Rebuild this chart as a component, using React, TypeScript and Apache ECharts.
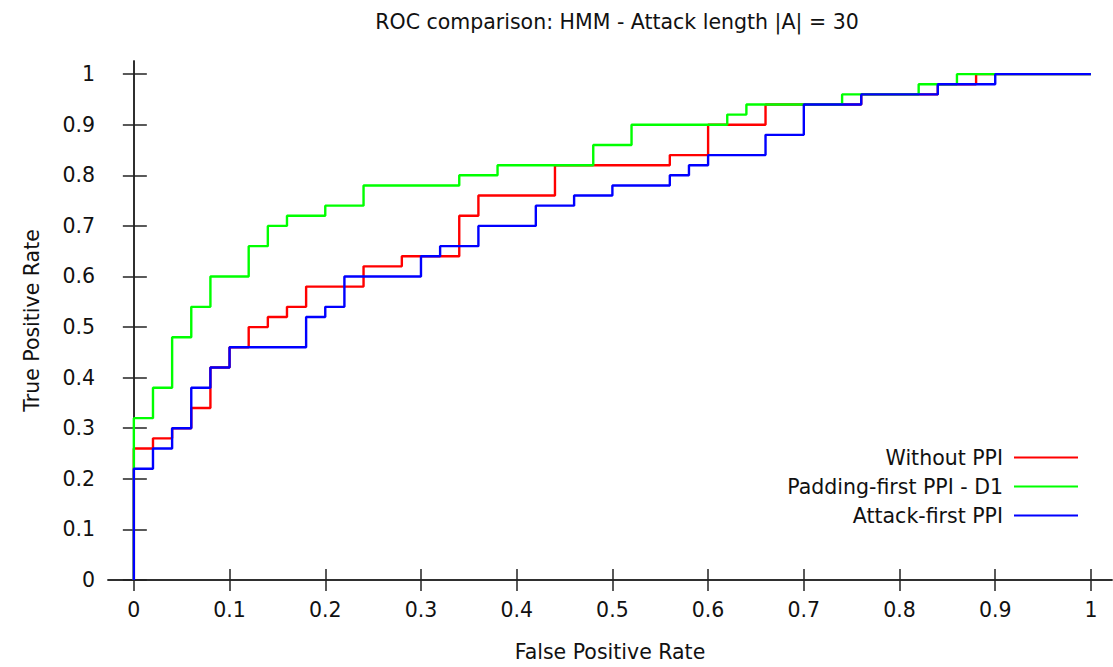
import React, { useEffect, useRef } from "react";
import * as echarts from "echarts";

const titleText = "ROC comparison: HMM - Attack length |A| = 30";
const xName = "False Positive Rate";
const yName = "True Positive Rate";

const xTicks = [0, 0.1, 0.2, 0.3, 0.4, 0.5, 0.6, 0.7, 0.8, 0.9, 1];
const yTicks = [0, 0.1, 0.2, 0.3, 0.4, 0.5, 0.6, 0.7, 0.8, 0.9, 1];

const seriesNames = ["Without PPI", "Padding-first PPI - D1", "Attack-first PPI"];
const seriesColors = ["#ff0000", "#00ff00", "#0000ff"];

const withoutFpr = [0, 0, 0.02, 0.04, 0.06, 0.08, 0.1, 0.12, 0.14, 0.16, 0.18, 0.24, 0.28, 0.34, 0.36, 0.44, 0.56, 0.6, 0.66, 0.76, 0.84, 0.88, 1];
const withoutTpr = [0, 0.26, 0.28, 0.3, 0.34, 0.42, 0.46, 0.5, 0.52, 0.54, 0.58, 0.62, 0.64, 0.72, 0.76, 0.82, 0.84, 0.9, 0.94, 0.96, 0.98, 1, 1];

const paddingFpr = [0, 0, 0.02, 0.04, 0.06, 0.08, 0.12, 0.14, 0.16, 0.2, 0.24, 0.34, 0.38, 0.48, 0.52, 0.62, 0.64, 0.74, 0.82, 0.86, 1];
const paddingTpr = [0, 0.32, 0.38, 0.48, 0.54, 0.6, 0.66, 0.7, 0.72, 0.74, 0.78, 0.8, 0.82, 0.86, 0.9, 0.92, 0.94, 0.96, 0.98, 1, 1];

const attackFpr = [0, 0, 0.02, 0.04, 0.06, 0.08, 0.1, 0.18, 0.2, 0.22, 0.3, 0.32, 0.36, 0.42, 0.46, 0.5, 0.56, 0.58, 0.6, 0.66, 0.7, 0.76, 0.84, 0.9, 1];
const attackTpr = [0, 0.22, 0.26, 0.3, 0.38, 0.42, 0.46, 0.52, 0.54, 0.6, 0.64, 0.66, 0.7, 0.74, 0.76, 0.78, 0.8, 0.82, 0.84, 0.88, 0.94, 0.96, 0.98, 1, 1];

const FONT = "'DejaVu Sans', sans-serif";
const FS = 20.5;
const TXT = "#111";

function zip(xs: number[], ys: number[]) {
  return xs.map((x, i) => [x, ys[i]]);
}

export default function App() {
  const ref = useRef<HTMLDivElement>(null);
  useEffect(() => {
    if (!ref.current) return;
    const chart = echarts.init(ref.current, null, { renderer: "svg" });
    const datasets = [
      zip(withoutFpr, withoutTpr),
      zip(paddingFpr, paddingTpr),
      zip(attackFpr, attackTpr),
    ];
    const axisLine = { show: true, lineStyle: { color: "#222", width: 1.5 } };
    const xRange = { min: -0.027, max: 1.022 };
    const yRange = { min: 0, max: 1.026 };
    const legendTops = [442, 471, 500];
    chart.setOption({
      animation: false,
      backgroundColor: "#fff",
      textStyle: { fontFamily: FONT, color: TXT },
      title: {
        text: titleText,
        left: 612,
        textAlign: "center",
        top: 6,
        textStyle: { fontFamily: FONT, fontSize: FS, fontWeight: "normal", color: TXT },
      },
      grid: { left: 108, top: 61, right: 1, bottom: 86, containLabel: false },
      xAxis: [
        {
          type: "value",
          ...xRange,
          position: "bottom",
          name: xName,
          nameLocation: "middle",
          nameGap: 61,
          nameTextStyle: { fontFamily: FONT, fontSize: FS, color: TXT },
          axisLine,
          splitLine: { show: false },
          axisTick: { show: true, inside: true, length: 11, customValues: xTicks, lineStyle: { color: "#222", width: 1.5 } },
          axisLabel: { show: true, customValues: xTicks, margin: 19, fontFamily: FONT, fontSize: FS, color: TXT, formatter: (v: number) => String(+v.toFixed(2)) },
        },
        {
          type: "value",
          ...xRange,
          position: "top",
          axisLine,
          splitLine: { show: false },
          axisTick: { show: true, inside: true, length: 11, customValues: xTicks, lineStyle: { color: "#222", width: 1.5 } },
          axisLabel: { show: false },
        },
      ],
      yAxis: [
        {
          type: "value",
          ...yRange,
          position: "left",
          name: yName,
          nameLocation: "middle",
          nameGap: 66,
          nameTextStyle: { fontFamily: FONT, fontSize: FS, color: TXT },
          axisLine,
          splitLine: { show: false },
          axisTick: { show: true, inside: true, length: 13, customValues: yTicks, lineStyle: { color: "#222", width: 1.5 } },
          axisLabel: { show: true, customValues: yTicks, margin: 13, fontFamily: FONT, fontSize: FS, color: TXT, formatter: (v: number) => String(+v.toFixed(2)) },
        },
        {
          type: "value",
          ...yRange,
          position: "right",
          axisLine,
          splitLine: { show: false },
          axisTick: { show: true, inside: true, length: 11, customValues: yTicks, lineStyle: { color: "#222", width: 1.5 } },
          axisLabel: { show: false },
        },
      ],
      legend: seriesNames.map((n, i) => ({
        data: [n],
        orient: "vertical",
        right: 30,
        top: legendTops[i],
        align: "right",
        icon: "rect",
        itemWidth: 64,
        itemHeight: 2,
        textStyle: { fontFamily: FONT, fontSize: FS, color: TXT, padding: [0, 6, 0, 0] },
      })),
      series: seriesNames.map((n, i) => ({
        name: n,
        type: "line",
        step: "end",
        xAxisIndex: 0,
        yAxisIndex: 0,
        data: datasets[i],
        showSymbol: false,
        symbol: "none",
        color: seriesColors[i],
        lineStyle: { color: seriesColors[i], width: 2.4 },
      })),
    });
    return () => chart.dispose();
  }, []);
  return (
    <div
      ref={ref}
      style={{ position: "absolute", left: 0, top: 0, width: 1113, height: 667, background: "#fff" }}
    />
  );
}
